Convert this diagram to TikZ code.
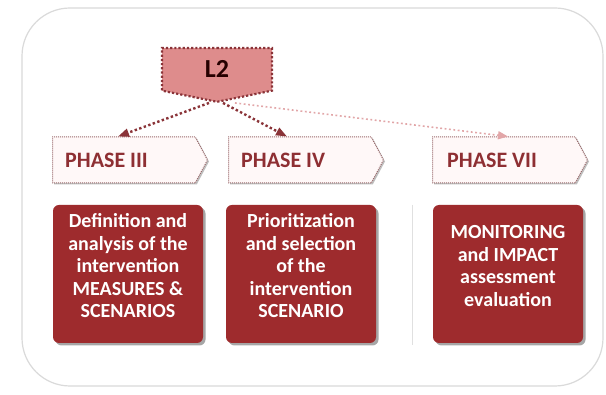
\documentclass[tikz,border=0pt]{standalone}
\usepackage{fontspec}
\setmainfont{Carlito}
\usetikzlibrary{shapes.symbols,shadows,arrows.meta,calc}
\definecolor{darkred}{HTML}{9E2B2D}
\definecolor{dotred}{HTML}{8A3338}
\definecolor{pinkfill}{HTML}{DE8C8C}
\definecolor{lightarrow}{HTML}{E2A6A8}
\definecolor{phaseline}{HTML}{9A6A6C}
\definecolor{phasefill}{HTML}{FFF8F8}
\definecolor{phasetext}{HTML}{8E2F33}
\definecolor{framegray}{HTML}{DADADA}
\begin{document}
\begin{tikzpicture}[x=1pt,y=-1pt,
  frame/.style={draw=framegray, line width=1.2pt, rounded corners=48pt},
  lbox/.style={signal, signal to=south, signal pointer angle=157, draw=dotred, fill=pinkfill,
    line width=2.2pt, dash pattern=on 2.2pt off 2pt, minimum width=110pt, minimum height=45pt,
    inner sep=0pt, font=\bfseries\fontsize{26}{30}\selectfont, text=black!85!red},
  phasebox/.style={signal, signal to=east, signal pointer angle=124, draw=phaseline, fill=phasefill,
    line width=1pt, dash pattern=on 1pt off 1pt, minimum width=155pt, minimum height=46pt, inner sep=0pt,
    drop shadow={shadow xshift=1.5pt, shadow yshift=-1.5pt, fill=black, opacity=0.25}},
  phasetext/.style={anchor=west, text=phasetext, font=\bfseries\fontsize{22}{24}\selectfont, inner sep=0pt},
  darkbox/.style={rectangle, rounded corners=6pt, fill=darkred, minimum width=150pt, minimum height=138pt,
    drop shadow={shadow xshift=2.5pt, shadow yshift=-2.5pt, fill=black, opacity=0.35}},
  boxtext/.style={text=white, align=center, font=\bfseries\fontsize{20}{22.5}\selectfont, inner sep=0pt},
  arr/.style={draw=dotred, line width=2.4pt, dash pattern=on 2.4pt off 2.4pt, -{Triangle[length=11pt,width=8pt]}},
  arrlight/.style={draw=lightarrow, line width=1.6pt, dash pattern=on 1.8pt off 2.6pt, -{Triangle[length=10pt,width=8pt]}}
]
\useasboundingbox (0,0) rectangle (606,395);
\fill[white] (0,0) rectangle (606,395);
\draw[frame] (22,8) rectangle (603,386);

\node[lbox, anchor=north] (l2) at (217,47) {L2};

\node[phasebox, anchor=west] (p3) at (52,160) {};
\node[phasebox, anchor=west] (p4) at (228,160) {};
\node[phasebox, anchor=west] (p7) at (432,160) {};
\node[phasetext] (t3) at ([xshift=13pt]p3.west) {PHASE III};
\node[phasetext] (t4) at ([xshift=13pt]p4.west) {PHASE IV};
\node[phasetext] (t7) at ([xshift=15pt]p7.west) {PHASE VII};

\draw[arrlight] ([xshift=18pt]l2.south) -- ([xshift=76pt]p7.north west);
\draw[arr] ([xshift=-8pt]l2.south) -- ([xshift=66pt]p3.north west);
\draw[arr] ([xshift=6pt]l2.south) -- ([xshift=59pt]p4.north west);

\draw[black!12, line width=1pt] (412,205) -- (412,345);

\node[darkbox] (b1) at (128,274) {};
\node[darkbox] (b2) at (301,274) {};
\node[darkbox] (b3) at (508,274) {};
\node[boxtext] (x1) at ([yshift=8pt]b1.center) {Definition and\\analysis of the\\intervention\\MEASURES \&\\SCENARIOS};
\node[boxtext] (x2) at ([yshift=8pt]b2.center) {Prioritization\\and selection\\of the\\intervention\\SCENARIO};
\node[boxtext] (x3) at ([yshift=8pt]b3.center) {MONITORING\\and IMPACT\\assessment\\evaluation};
\end{tikzpicture}
\end{document}
